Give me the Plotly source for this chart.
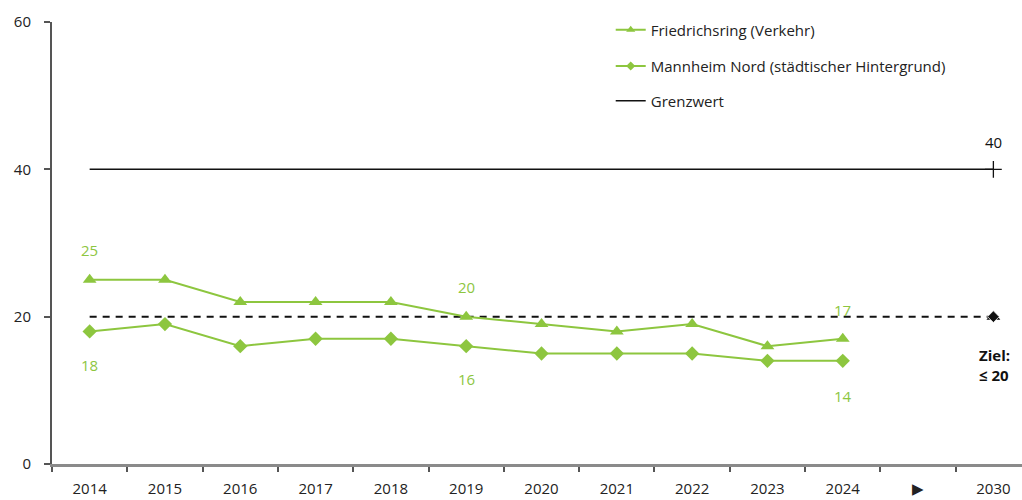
import plotly.graph_objects as go

# Kategorien der x-Achse (Jahre, Pfeil als Platzhalter, Zieljahr)
categories = ["2014", "2015", "2016", "2017", "2018", "2019", "2020",
              "2021", "2022", "2023", "2024", "▶", "2030"]
years = ["2014", "2015", "2016", "2017", "2018", "2019", "2020",
         "2021", "2022", "2023", "2024"]

# NO2-Jahresmittelwerte in µg/m³
friedrichsring = [25, 25, 22, 22, 22, 20, 19, 18, 19, 16, 17]
mannheim_nord = [18, 19, 16, 17, 17, 16, 15, 15, 15, 14, 14]

grenzwert = 40
ziel = 20
ziel_jahr = "2030"

# Beschriftete Werte: (Jahr, Wert, Verschiebung in px)
labels_friedrichsring = [("2014", 25, 30), ("2019", 20, 30), ("2024", 17, 29)]
labels_mannheim_nord = [("2014", 18, -34), ("2019", 16, -33), ("2024", 14, -35)]

GREEN = "#8dc63f"
BLACK = "#111111"
FONT = "Open Sans"


def pos(cat):
    # Annotationen auf Kategorieachsen erwarten den Kategorieindex
    return categories.index(cat)


fig = go.Figure()

# Grenzwert-Linie
fig.add_trace(go.Scatter(
    x=[years[0], ziel_jahr], y=[grenzwert, grenzwert],
    mode="lines", name="Grenzwert",
    line=dict(color=BLACK, width=1.5),
    legend="legend3",
))
fig.add_trace(go.Scatter(
    x=[ziel_jahr], y=[grenzwert], mode="markers",
    marker=dict(symbol="cross-thin-open", size=12, color=BLACK,
                line=dict(color=BLACK, width=1.3)),
    showlegend=False,
))

# Ziel-Linie (gestrichelt)
fig.add_trace(go.Scatter(
    x=[years[0], ziel_jahr], y=[ziel, ziel],
    mode="lines", line=dict(color=BLACK, width=2, dash="7px,6px"),
    showlegend=False, hoverinfo="skip",
))

# Zielmarker
fig.add_trace(go.Scatter(
    x=[ziel_jahr], y=[ziel], mode="markers",
    marker=dict(symbol="triangle-up", size=12, color=BLACK),
    showlegend=False,
))
fig.add_trace(go.Scatter(
    x=[ziel_jahr], y=[ziel], mode="markers",
    marker=dict(symbol="diamond", size=9, color=BLACK,
                line=dict(color="white", width=0.8)),
    showlegend=False,
))

# Messstationen
fig.add_trace(go.Scatter(
    x=years, y=friedrichsring, mode="lines+markers",
    line=dict(color=GREEN, width=2),
    marker=dict(symbol="triangle-up", size=12, color=GREEN),
    showlegend=False,
))
fig.add_trace(go.Scatter(
    x=years, y=mannheim_nord, mode="lines+markers",
    line=dict(color=GREEN, width=2),
    marker=dict(symbol="diamond", size=11, color=GREEN),
    showlegend=False,
))

# Legendeneinträge mit kleineren Symbolen
fig.add_trace(go.Scatter(
    x=[None], y=[None], mode="lines+markers",
    name="Friedrichsring (Verkehr)",
    line=dict(color=GREEN, width=2),
    marker=dict(symbol="triangle-up", size=8, color=GREEN),
    legend="legend",
))
fig.add_trace(go.Scatter(
    x=[None], y=[None], mode="lines+markers",
    name="Mannheim Nord (städtischer Hintergrund)",
    line=dict(color=GREEN, width=2),
    marker=dict(symbol="diamond", size=7, color=GREEN),
    legend="legend2",
))

annotations = []
for yr, val, shift in labels_friedrichsring + labels_mannheim_nord:
    annotations.append(dict(
        x=pos(yr), y=val, xref="x", yref="y", text=str(val),
        showarrow=False, yshift=shift,
        font=dict(family=FONT, size=15, color=GREEN),
    ))
annotations.append(dict(
    x=pos(ziel_jahr), y=grenzwert, xref="x", yref="y", text=str(grenzwert),
    showarrow=False, yshift=27,
    font=dict(family=FONT, size=15, color=BLACK),
))
annotations.append(dict(
    x=pos(ziel_jahr), y=ziel, xref="x", yref="y",
    text="<b>Ziel:</b><br><b>≤ 20</b>", showarrow=False,
    yshift=-48, xshift=1, align="left",
    font=dict(family=FONT, size=15, color=BLACK),
))

legend_common = dict(
    xanchor="left", yanchor="middle", x=0.576,
    font=dict(family=FONT, size=15, color="#222222"),
    bgcolor="rgba(0,0,0,0)", borderwidth=0, itemwidth=30,
)

fig.update_layout(
    width=1022, height=500,
    margin=dict(l=52, r=0, t=22, b=36, autoexpand=False),
    plot_bgcolor="white", paper_bgcolor="white",
    font=dict(family=FONT, size=15, color="#222222"),
    showlegend=True,
    legend=dict(**legend_common, y=0.982),
    legend2=dict(**legend_common, y=0.900),
    legend3=dict(**legend_common, y=0.821),
    annotations=annotations,
    xaxis=dict(
        type="category", categoryorder="array", categoryarray=categories,
        range=[-0.5, 12.38],
        showgrid=False, zeroline=False,
        showline=True, linecolor="#8a8a8a", linewidth=3,
        ticks="outside", tickson="boundaries", ticklen=5,
        tickcolor="#555555", tickwidth=1.5,
        ticklabelstandoff=9,
        tickfont=dict(family=FONT, size=15, color="#222222"),
    ),
    yaxis=dict(
        range=[0, 60], tickvals=[0, 20, 40, 60],
        showgrid=False, zeroline=False,
        showline=True, linecolor="#555555", linewidth=2,
        ticks="outside", ticklen=6, tickcolor="#555555", tickwidth=1.5,
        ticklabelstandoff=10,
        tickfont=dict(family=FONT, size=15, color="#222222"),
    ),
)

fig.write_html("out.html")
